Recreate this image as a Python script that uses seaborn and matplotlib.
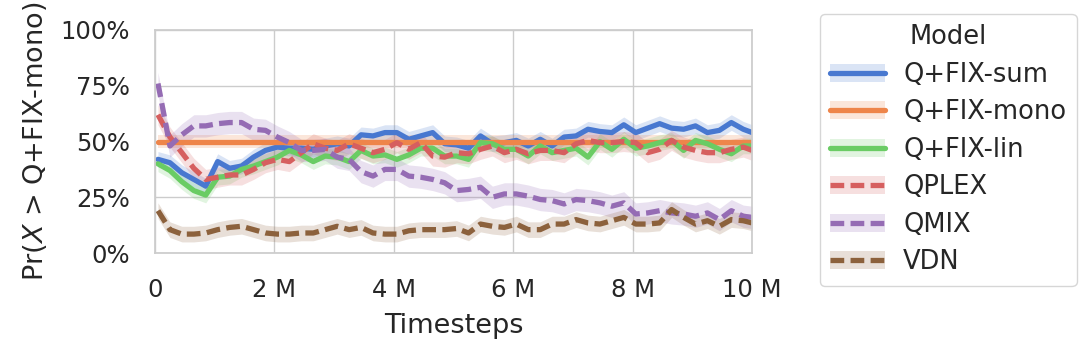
import matplotlib
matplotlib.use("Agg")
import matplotlib.pyplot as plt
import matplotlib.ticker as mticker
from matplotlib.lines import Line2D
from matplotlib.patches import Patch
import numpy as np
import pandas as pd
import seaborn as sns

sns.set_theme(style="whitegrid", palette="muted")

# timesteps in millions (evaluation points)
timesteps = np.round(np.append(np.arange(0.05, 9.9, 0.2), 10.0), 2)

fix_sum = [42, 40.5, 36, 33, 30, 41, 38, 39, 43, 46,
           47.5, 47, 47, 46.5, 48, 49, 48, 53, 52.5, 54,
           54, 51, 52.5, 54, 49, 48.5, 47, 52.5, 49, 49.5,
           50.5, 48, 51, 48, 52, 52.5, 55.5, 54.5, 54, 57.5,
           54, 56, 58, 56, 55.5, 57, 54, 55, 58.5, 55.5, 54]
fix_mono = [50] * 51
fix_lin = [40, 37, 32, 28, 26, 34, 34.5, 37.5, 39, 41,
           43, 46, 44, 41, 43.5, 43, 41, 46, 43.5, 44,
           42, 44, 47, 47, 43.5, 43.5, 42, 49.5, 49, 46.5,
           46.5, 43.5, 48, 45, 46, 47, 43, 50, 46.5, 51,
           47, 48, 49.5, 50.5, 46, 50.5, 49, 46.5, 44.5, 48, 48]
qplex = [62, 52, 45, 38, 33, 34, 35, 35, 37.5, 40.5,
         42, 41, 45, 49, 47, 46, 49, 47, 45, 46.5,
         49.5, 46.5, 49.5, 43.5, 43, 45, 44.5, 46.5, 48, 45,
         46.5, 44.5, 46, 46, 45, 49, 50.5, 49.5, 49.5, 50,
         49.5, 45, 46.5, 50.5, 47.5, 46, 45, 45, 46.5, 47.5, 46]
qmix = [76, 48, 53, 57, 57, 58, 58.5, 58.5, 55.5, 55,
        52, 49.5, 46, 46, 46.5, 43, 42, 36.5, 34.5, 37.5,
        37.5, 34.5, 34, 33, 31.5, 28, 28.5, 29.5, 25, 26.5,
        26.5, 25.5, 24, 23.5, 22, 24, 23.5, 22.5, 21, 22.5,
        17.5, 18, 19, 18, 17.5, 16.5, 18, 15, 19, 16.5, 16]
vdn = [19, 10.5, 8.5, 8.5, 9, 10.5, 11.5, 12, 10.5, 9,
       8.5, 8.5, 9, 9, 10.5, 12, 10.5, 11.5, 9, 8.5,
       8.5, 10, 10.5, 10.5, 10.5, 11, 9, 13, 12, 11.5,
       13, 10.5, 10.5, 13, 13, 15, 13.5, 13, 14.5, 16,
       13, 13, 13.5, 19.5, 16, 13, 14.5, 12, 15, 14.5, 13.5]

models = ["Q+FIX-sum", "Q+FIX-mono", "Q+FIX-lin", "QPLEX", "QMIX", "VDN"]
series = [fix_sum, fix_mono, fix_lin, qplex, qmix, vdn]
# approximate half-width of the confidence band, in percent
band = [3.5, 3, 3.5, 4.5, 5, 3.5]

df = pd.concat([
    pd.DataFrame({"Timesteps": timesteps, "Pr": np.array(v) / 100, "Model": m})
    for m, v in zip(models, series)
])

colors = sns.color_palette("muted", 6)
palette = dict(zip(models, colors))
dash_pat = (2.6, 1.2)
dashes = {m: ("" if m.startswith("Q+FIX") else dash_pat) for m in models}

fig = plt.figure(figsize=(10.8, 3.61), dpi=100)
ax = fig.add_axes([0.1435, 0.299, 0.553, 0.618])

sns.lineplot(data=df, x="Timesteps", y="Pr", hue="Model", style="Model",
             palette=palette, dashes=dashes, linewidth=3.8, ax=ax, legend=False)
for m, v, b in zip(models, series, band):
    v = np.array(v) / 100
    ax.fill_between(timesteps, v - b / 100, v + b / 100, color=palette[m],
                    alpha=0.2, linewidth=0)

ax.set_xlim(0, 10)
ax.set_ylim(0, 1)
ax.set_xticks([0, 2, 4, 6, 8, 10])
ax.xaxis.set_major_formatter(mticker.FuncFormatter(lambda v, p: "0" if v == 0 else f"{int(v)} M"))
ax.set_yticks([0, 0.25, 0.5, 0.75, 1.0])
ax.yaxis.set_major_formatter(mticker.PercentFormatter(1.0, decimals=0))
ax.tick_params(axis="x", labelsize=17.5, pad=12)
ax.tick_params(axis="y", labelsize=17.5, pad=12)
ax.set_xlabel("Timesteps", fontsize=19.5, labelpad=8)
ax.set_ylabel("Pr($X$ > Q+FIX-mono)", fontsize=19.5, labelpad=8)
for s in ax.spines.values():
    s.set_color("#cccccc")

handles = []
for m in models:
    ln = Line2D([], [], color=palette[m], linewidth=3.8,
                linestyle="-" if m.startswith("Q+FIX") else (0, dash_pat))
    handles.append((Patch(facecolor=palette[m], alpha=0.2, linewidth=0), ln))
leg = fig.legend(handles, models, title="Model", loc="upper left",
                 bbox_to_anchor=(0.759, 0.962), borderaxespad=0,
                 fontsize=18.5, title_fontsize=18.5,
                 labelspacing=0.45, handlelength=2.15, handletextpad=0.7,
                 frameon=True)
leg.get_frame().set_edgecolor("#cccccc")

fig.savefig("out.png", dpi=100)
